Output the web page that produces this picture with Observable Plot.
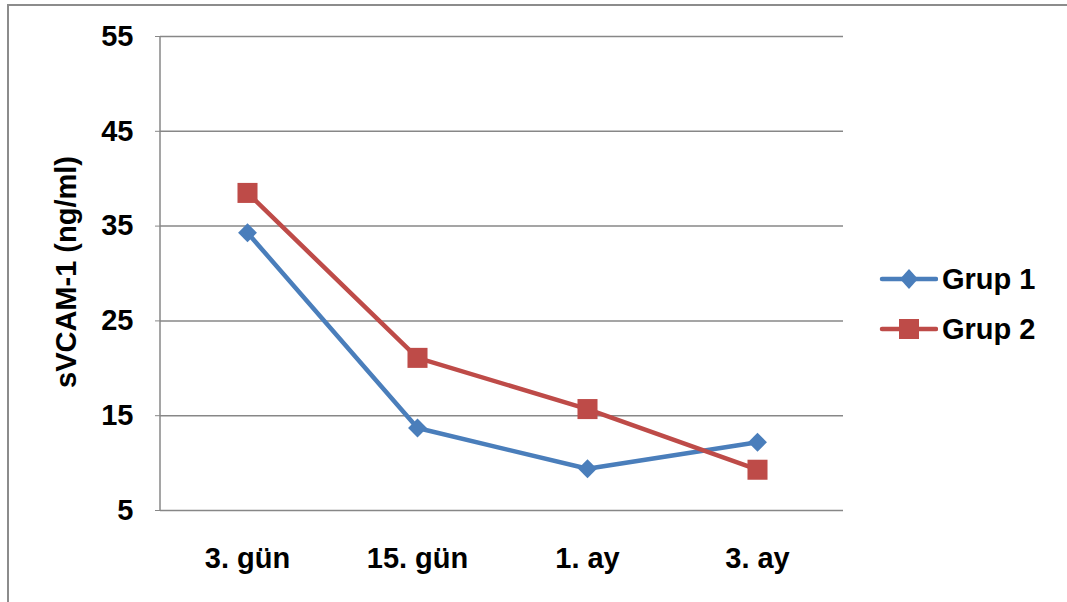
<!DOCTYPE html>
<html>
<head>
<meta charset="utf-8">
<script src="https://cdn.jsdelivr.net/npm/d3@7"></script>
<script src="https://cdn.jsdelivr.net/npm/@observablehq/plot@0.6"></script>
<style>
  html, body { margin: 0; padding: 0; background: #fff; }
  #wrap { position: relative; width: 1067px; height: 602px; overflow: hidden; font-family: "Liberation Sans", Arial, sans-serif; }
  #frame { position: absolute; left: 7px; top: 4px; width: 1080px; height: 620px; border: 2px solid #8c8c8c; box-sizing: border-box; }
  #chart { position: absolute; left: 0; top: 0; }
  #legend { position: absolute; left: 878px; top: 254px; }
  .item { display: flex; align-items: center; height: 50px; font-weight: bold; font-size: 29px; color: #000; }
  .item svg { margin-right: 4px; }
</style>
</head>
<body>
<div id="wrap">
  <div id="frame"></div>
  <div id="chart"></div>
  <div id="legend"></div>
</div>
<script>
const categories = ["3. gün", "15. gün", "1. ay", "3. ay"];
const grup1 = [34.3, 13.7, 9.4, 12.2];
const grup2 = [38.5, 21.1, 15.7, 9.3];
const seriesNames = ["Grup 1", "Grup 2"];
const yTicks = [5, 15, 25, 35, 45, 55];
const yTitle = "sVCAM-1 (ng/ml)";
const colors = ["#4A7EBB", "#BE4B48"];

const rows1 = categories.map((c, i) => ({cat: c, v: grup1[i], s: seriesNames[0]}));
const rows2 = categories.map((c, i) => ({cat: c, v: grup2[i], s: seriesNames[1]}));

const plot = Plot.plot({
  width: 1067,
  height: 602,
  marginLeft: 160,
  marginRight: 224,
  marginTop: 36,
  marginBottom: 92,
  style: { fontFamily: "'Liberation Sans', Arial, sans-serif", background: "transparent" },
  x: { type: "point", domain: categories, padding: 0.5, label: null },
  y: { domain: [5, 55], ticks: yTicks, label: null },
  marks: [
    Plot.ruleY(yTicks, { stroke: "#878787", strokeWidth: 1.5 }),
    Plot.axisY({ ticks: yTicks, tickSize: 5, tickPadding: 22, stroke: "#878787", fontSize: 29, fontWeight: "bold", fill: "#000", label: null }),
    Plot.axisX({ tickSize: 0, tickPadding: 37, fontSize: 29, fontWeight: "bold", fill: "#000", label: null }),
    Plot.line(rows1, { x: "cat", y: "v", stroke: colors[0], strokeWidth: 4.5 }),
    Plot.line(rows2, { x: "cat", y: "v", stroke: colors[1], strokeWidth: 4.5 }),
    Plot.dot(rows1, { x: "cat", y: "v", symbol: "diamond2", r: 8.5, fill: colors[0], stroke: null }),
    Plot.dot(rows2, { x: "cat", y: "v", symbol: "square", r: 11.3, fill: colors[1], stroke: null })
  ]
});
document.getElementById("chart").appendChild(plot);

{
  const svg = d3.select(plot);
  // vertical axis line
  svg.append("line").attr("x1", 160).attr("x2", 160).attr("y1", 36).attr("y2", 510)
    .attr("stroke", "#878787").attr("stroke-width", 1.5);
  // y-axis title
  svg.append("text")
    .attr("transform", "translate(66,272) rotate(-90)")
    .attr("text-anchor", "middle")
    .attr("dominant-baseline", "central")
    .attr("font-size", 29)
    .attr("font-weight", "bold")
    .attr("fill", "#000")
    .text(yTitle);
}

// legend
const legend = document.getElementById("legend");
seriesNames.forEach((name, i) => {
  const item = document.createElement("div");
  item.className = "item";
  const ns = "http://www.w3.org/2000/svg";
  const s = document.createElementNS(ns, "svg");
  s.setAttribute("width", 60); s.setAttribute("height", 24);
  const l = document.createElementNS(ns, "line");
  l.setAttribute("x1", 4); l.setAttribute("x2", 58); l.setAttribute("y1", 12); l.setAttribute("y2", 12);
  l.setAttribute("stroke", colors[i]); l.setAttribute("stroke-width", 4.5); l.setAttribute("stroke-linecap", "round");
  s.appendChild(l);
  if (i === 0) {
    const p = document.createElementNS(ns, "path");
    p.setAttribute("d", "M31,2 L40,12 L31,22 L22,12 Z");
    p.setAttribute("fill", colors[i]);
    s.appendChild(p);
  } else {
    const r = document.createElementNS(ns, "rect");
    r.setAttribute("x", 21); r.setAttribute("y", 2); r.setAttribute("width", 20); r.setAttribute("height", 20);
    r.setAttribute("fill", colors[i]);
    s.appendChild(r);
  }
  item.appendChild(s);
  const t = document.createElement("span");
  t.textContent = name;
  item.appendChild(t);
  legend.appendChild(item);
});
</script>
</body>
</html>
